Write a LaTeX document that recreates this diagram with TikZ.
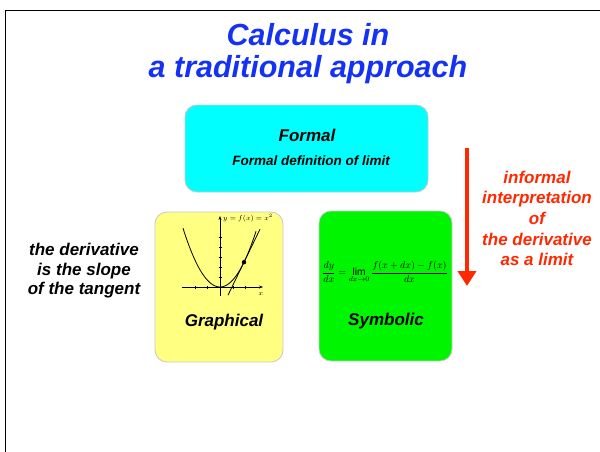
\documentclass[tikz,border=0pt]{standalone}
\usepackage{fontspec}
\setmainfont{Liberation Sans}
\usetikzlibrary{positioning, arrows.meta}

\definecolor{titleblue}{RGB}{20,50,245}
\definecolor{hotred}{RGB}{255,40,0}
\definecolor{boxcyan}{RGB}{0,255,255}
\definecolor{boxyellow}{RGB}{255,255,130}
\definecolor{boxgreen}{RGB}{0,245,0}

\begin{document}
\begin{tikzpicture}[
        x=1pt, y=-1pt,
        card/.style={rectangle, rounded corners=12pt, draw=black!22, line width=0.8pt},
        lbl/.style={font=\fontsize{17}{20}\selectfont\bfseries\itshape},
        note/.style={align=center, font=\fontsize{17}{19.5}\selectfont\bfseries\itshape},
        axis/.style={line width=0.6pt, -{Stealth[length=4pt,width=3pt]}},
        downarr/.style={line width=4pt, hotred, -{Triangle[length=15pt,width=18pt]}},
    ]
        \useasboundingbox (0,0) rectangle (600,452);

        % slide frame
        \draw[line width=0.9pt] (600,10) -- (5.5,10) -- (5.5,452);

        % title
        \node[align=center, text=titleblue, font=\fontsize{30.5}{32}\selectfont\bfseries\itshape] (title) at (308,54) {Calculus in\\a traditional approach};

        % the three cards
        \node[card, fill=boxcyan, minimum width=243pt, minimum height=87pt] (formal) at (306.5,148.5) {};
        \node[card, fill=boxyellow, minimum width=128pt, minimum height=150pt] (graph) at (219,287) {};
        \node[card, fill=boxgreen, minimum width=133pt, minimum height=150pt] (symb) at (385.5,286) {};

        \node[lbl] (formallbl) at (307,135) {Formal};
        \node[font=\fontsize{13.5}{16}\selectfont\bfseries\itshape] (formaldef) at (311,161) {Formal definition of limit};
        \node[lbl] (graphlbl) at (224,322) {Graphical};
        \node[lbl] (symblbl) at (386,321) {Symbolic};

        % small graph of the parabola and its tangent
        \begin{scope}[shift={(220,287)}, x=1pt, y=1pt]
            \draw[axis] (-38,0) -- (43,0);
            \draw[axis] (0,-9) -- (0,71);
            \foreach \t in {-25,-13,13,25}
                \draw[line width=0.4pt] (\t,-1.5) -- (\t,1.5);
            \foreach \t in {10,20,30,40,50}
                \draw[line width=0.4pt] (-1.5,\t) -- (1.5,\t);
            \draw[line width=0.8pt, domain=-37:36, samples=60] plot (\x, {0.043*\x*\x});
            \draw[line width=0.8pt] (8,-8.2) -- (40,57.8);
            \fill (24,24.8) circle (2.2pt);
            \node[anchor=south, inner sep=1pt, font=\fontsize{7}{8}\selectfont] (xlbl) at (41,-10) {$x$};
            \node[anchor=west, inner sep=1pt, font=\fontsize{7.5}{8}\selectfont] (ylbl) at (2,69) {$y=f(x)=x^2$};
        \end{scope}

        % formula
        \node[inner sep=0pt, font=\fontsize{10.2}{12}\selectfont] (formula) at (385,272) {$\displaystyle \frac{dy}{dx}=\lim_{dx\to 0}\frac{f(x+dx)-f(x)}{dx}$};

        % side notes
        \node[note] (slope) at (84,271) {the derivative\\is the slope\\of the tangent};
        \node[note, text=hotred, font=\fontsize{17}{20.7}\selectfont\bfseries\itshape] (limit) at (537,218.5) {informal\\interpretation\\of\\the derivative\\as a limit};

        % arrow from formal down to symbolic
        \coordinate (arrtop) at (467,148);
        \coordinate (arrbot) at (467,286);
        \draw[downarr] (arrtop) -- (arrbot);
    \end{tikzpicture}
\end{document}
